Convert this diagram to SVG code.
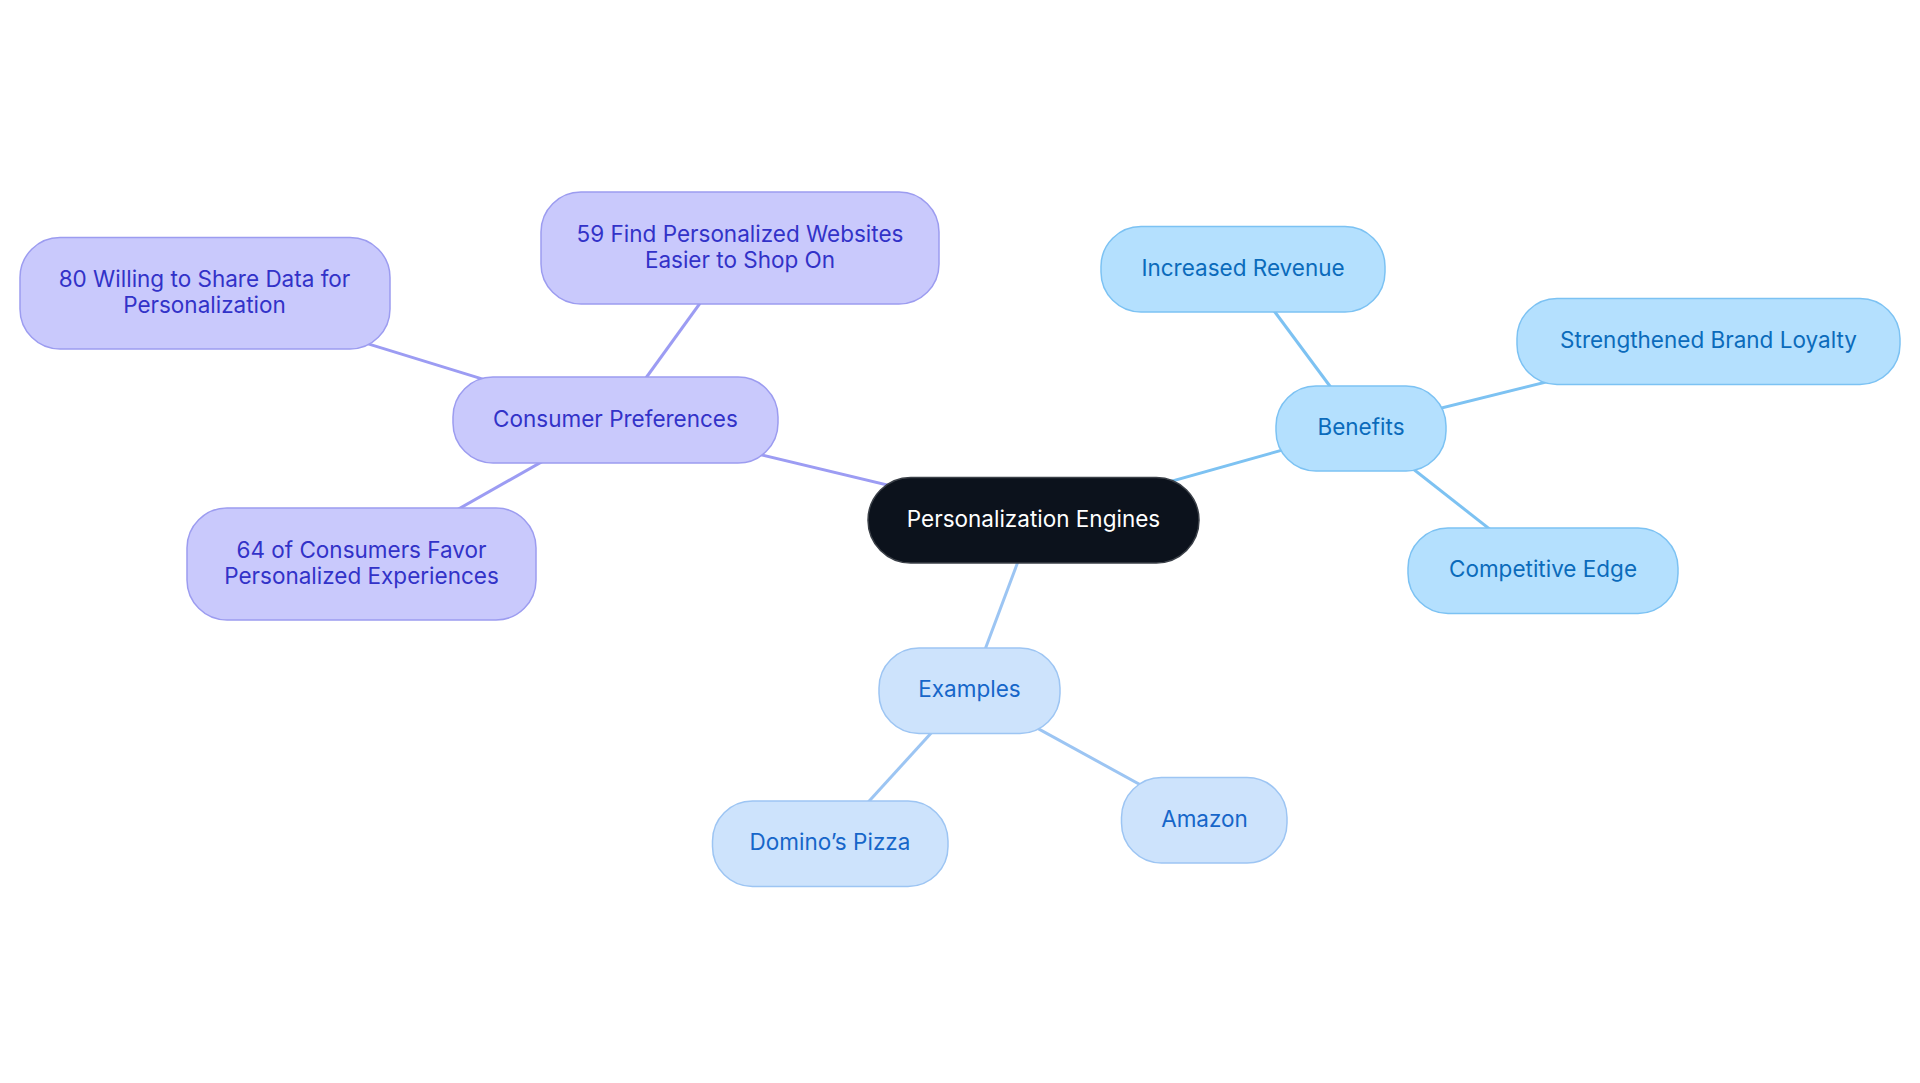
<svg xmlns="http://www.w3.org/2000/svg" width="1920" height="1083" viewBox="0 0 1920 1083">
<style>
.t{font-family:Inter,"Noto Sans","Liberation Sans",sans-serif;font-size:22.5px;text-anchor:middle}
.p rect{fill:#C9C9FC;stroke:#9C9CF0;stroke-width:1.5}
.p text{fill:#3232C8}
.b rect{fill:#B4E0FE;stroke:#7CC2F3;stroke-width:1.5}
.b text{fill:#0B6BBB}
.e rect{fill:#CDE3FC;stroke:#9DC5F3;stroke-width:1.5}
.e text{fill:#1666C9}
.lp{stroke:#9C9CF3;stroke-width:3;fill:none}
.lb{stroke:#7DC2F2;stroke-width:3;fill:none}
.le{stroke:#9CC5F3;stroke-width:3;fill:none}
</style>
<rect width="1920" height="1083" fill="#ffffff"/>
<g id="connectors">
<line class="lp" x1="1033.5" y1="520" x2="615.5" y2="420"/>
<line class="lb" x1="1033.5" y1="520" x2="1361" y2="428"/>
<line class="le" x1="1033.5" y1="520" x2="969.5" y2="691"/>
<line class="lp" x1="615.5" y1="420" x2="740" y2="248"/>
<line class="lp" x1="615.5" y1="420" x2="204.5" y2="293.5"/>
<line class="lp" x1="615.5" y1="420" x2="361.5" y2="564"/>
<line class="lb" x1="1361" y1="428" x2="1243" y2="269"/>
<line class="lb" x1="1361" y1="428" x2="1708.5" y2="341.7"/>
<line class="lb" x1="1361" y1="428" x2="1543" y2="571"/>
<line class="le" x1="969.5" y1="691" x2="830" y2="844"/>
<line class="le" x1="969.5" y1="691" x2="1204.5" y2="820"/>
</g>
<g id="center">
<rect x="868" y="477.5" width="331" height="85.5" rx="42.7" fill="#0C121C" stroke="#3b4048" stroke-width="1.5"/>
<text class="t" x="1033.5" y="526.5" fill="#ffffff">Personalization Engines</text>
</g>
<g id="consumer" class="p">
<rect x="453" y="377" width="325" height="86" rx="40"/>
<text class="t" x="615.5" y="426.5">Consumer Preferences</text>
</g>
<g id="find59" class="p">
<rect x="541" y="192" width="398" height="112" rx="40"/>
<text class="t" x="740" y="242">59 Find Personalized Websites</text>
<text class="t" x="740" y="268">Easier to Shop On</text>
</g>
<g id="willing80" class="p">
<rect x="20" y="237.5" width="370" height="111.5" rx="40"/>
<text class="t" x="204.5" y="287">80 Willing to Share Data for</text>
<text class="t" x="204.5" y="313">Personalization</text>
</g>
<g id="favor64" class="p">
<rect x="187" y="508" width="349" height="112" rx="40"/>
<text class="t" x="361.5" y="558">64 of Consumers Favor</text>
<text class="t" x="361.5" y="584">Personalized Experiences</text>
</g>
<g id="benefits" class="b">
<rect x="1276" y="386" width="170" height="85" rx="40"/>
<text class="t" x="1361" y="435">Benefits</text>
</g>
<g id="revenue" class="b">
<rect x="1101" y="226.5" width="284" height="85.5" rx="40"/>
<text class="t" x="1243" y="275.5">Increased Revenue</text>
</g>
<g id="loyalty" class="b">
<rect x="1517" y="298.5" width="383" height="86" rx="40"/>
<text class="t" x="1708.5" y="348">Strengthened Brand Loyalty</text>
</g>
<g id="edge" class="b">
<rect x="1408" y="528" width="270" height="85.5" rx="40"/>
<text class="t" x="1543" y="577">Competitive Edge</text>
</g>
<g id="examples" class="e">
<rect x="879" y="648" width="181" height="85.5" rx="40"/>
<text class="t" x="969.5" y="697">Examples</text>
</g>
<g id="dominos" class="e">
<rect x="712.5" y="801" width="235.5" height="85.5" rx="40"/>
<text class="t" x="830" y="850">Domino’s Pizza</text>
</g>
<g id="amazon" class="e">
<rect x="1121.5" y="777.5" width="165.5" height="85.5" rx="40"/>
<text class="t" x="1204.5" y="826.5">Amazon</text>
</g>
</svg>
